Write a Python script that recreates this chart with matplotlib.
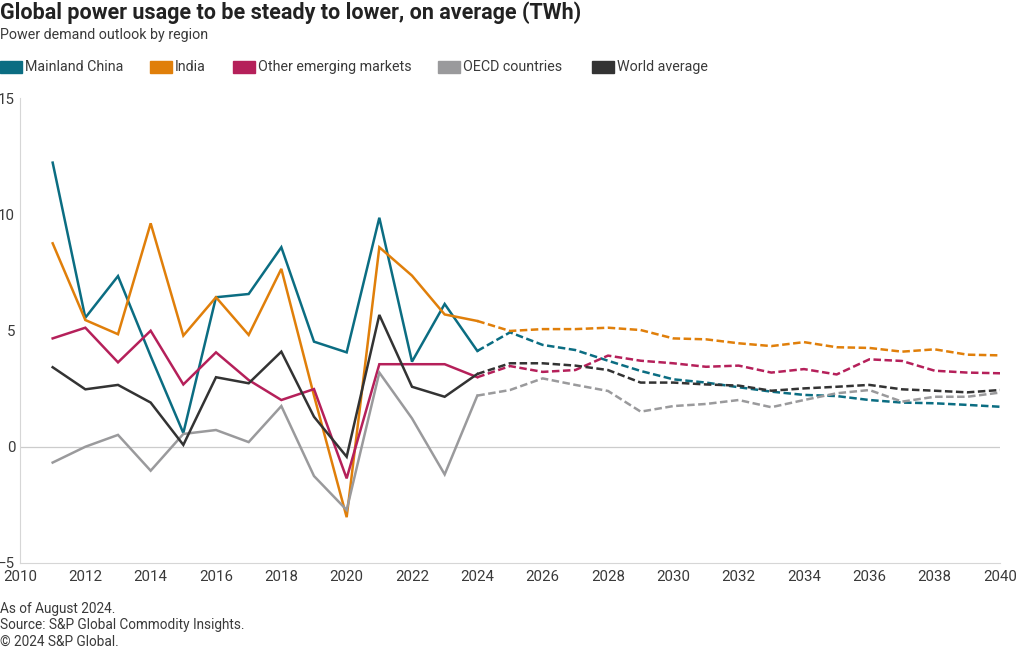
import numpy as np
import matplotlib
matplotlib.use("Agg")
from matplotlib import pyplot as plt
from matplotlib.patches import Rectangle

plt.rcParams['font.family'] = ['Roboto', 'DejaVu Sans']

years = list(range(2011, 2041))
split_year = 2024  # solid up to here, dashed forecast after

china = [12.22, 5.55, 7.34, 3.90, 0.59, 6.43, 6.57, 8.58, 4.52, 4.06,
         9.85, 3.66, 6.14, 4.12, 4.92, 4.38, 4.16, 3.70, 3.26, 2.90,
         2.76, 2.56, 2.37, 2.23, 2.18, 2.01, 1.90, 1.87, 1.80, 1.72]
india = [8.75, 5.45, 4.84, 9.61, 4.78, 6.43, 4.81, 7.65, 2.20, -3.03,
         8.58, 7.36, 5.69, 5.41, 4.98, 5.06, 5.06, 5.12, 5.02, 4.66,
         4.62, 4.45, 4.33, 4.50, 4.28, 4.25, 4.09, 4.19, 3.96, 3.93]
other_em = [4.66, 5.12, 3.63, 4.99, 2.68, 4.06, 2.87, 2.01, 2.48, -1.36,
            3.55, 3.55, 3.55, 2.99, 3.47, 3.22, 3.30, 3.92, 3.70, 3.59,
            3.44, 3.49, 3.19, 3.34, 3.11, 3.76, 3.69, 3.27, 3.19, 3.16]
oecd = [-0.68, 0.0, 0.51, -1.03, 0.55, 0.72, 0.20, 1.75, -1.26, -2.72,
        3.19, 1.22, -1.19, 2.20, 2.44, 2.94, 2.66, 2.40, 1.51, 1.75,
        1.84, 2.01, 1.70, 2.01, 2.30, 2.44, 1.94, 2.15, 2.15, 2.33]
world = [3.42, 2.47, 2.66, 1.90, 0.08, 2.99, 2.73, 4.09, 1.29, -0.43,
         5.67, 2.58, 2.15, 3.13, 3.59, 3.59, 3.49, 3.30, 2.76, 2.76,
         2.68, 2.63, 2.41, 2.51, 2.58, 2.66, 2.47, 2.41, 2.34, 2.44]

names = ["Mainland China", "India", "Other emerging markets", "OECD countries", "World average"]
colors = ["#0b6d82", "#e07f0a", "#b5205a", "#9a9a9c", "#333333"]
series = [china, india, other_em, oecd, world]

fig = plt.figure(figsize=(10.2, 6.5), dpi=100)
ax = fig.add_axes([20/1020, 1 - 563/650, 980/1020, 465/650])

yrs = np.array(years)
k = years.index(split_year)
for vals, c in zip(series, colors):
    v = np.array(vals)
    ax.plot(yrs[:k+1], v[:k+1], color=c, lw=1.8, solid_joinstyle='miter', zorder=3)
    ax.plot(yrs[k:], v[k:], color=c, lw=1.8, ls=(0, (3.0, 1.4)), zorder=3)

ax.set_xlim(2010, 2040)
ax.set_ylim(-5, 15)
ax.set_xticks(range(2010, 2041, 2))
ax.set_yticks([-5, 0, 5, 10, 15])
ax.axhline(0, color="#cccccc", lw=0.9, zorder=1)
for s in ["top", "right"]:
    ax.spines[s].set_visible(False)
for s in ["left", "bottom"]:
    ax.spines[s].set_color("#d6d6d6")
    ax.spines[s].set_linewidth(0.8)
ax.tick_params(length=0, labelsize=10.8, colors="#3a3a3a")
ax.tick_params(axis="y", pad=3.5)
ax.tick_params(axis="x", pad=5)

# title block
fig.text(0, 1 - 13/650, "Global power usage to be steady to lower, on average (TWh)",
         fontsize=15.5, fontweight="bold", color="#222222", va="center", ha="left")
fig.text(0, 1 - 35/650, "Power demand outlook by region", fontsize=10.3,
         color="#3a3a3a", va="center", ha="left")

# legend
leg_x = [0, 150, 233, 438, 592]
for x, name, c in zip(leg_x, names, colors):
    fig.patches.append(Rectangle((x/1020, 1 - 73/650), 22/1020, 12/650,
                                 transform=fig.transFigure, color=c))
    fig.text((x + 25)/1020, 1 - 67/650, name, fontsize=10.3, color="#3a3a3a",
             va="center", ha="left")

# footer
foot = ["As of August 2024.", "Source: S&P Global Commodity Insights.", "\u00a9 2024 S&P Global."]
for i, t in enumerate(foot):
    fig.text(0, 1 - (609 + 16.5*i)/650, t, fontsize=9.8, color="#3a3a3a",
             va="center", ha="left")

fig.savefig("out.png", dpi=100)
